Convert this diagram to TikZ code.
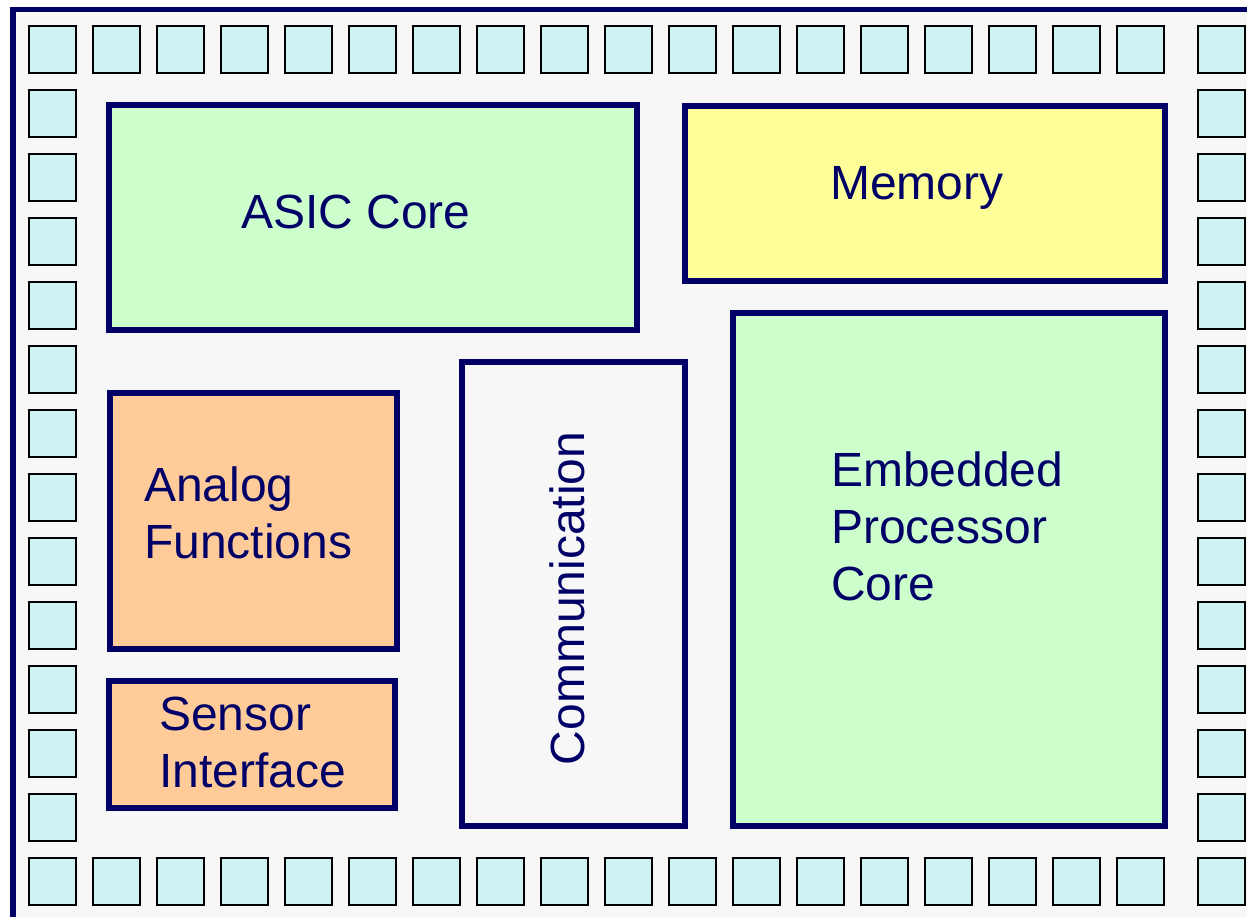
\documentclass[tikz,border=0pt]{standalone}
\usepackage{fontspec}
\setmainfont{Liberation Sans}
\usepackage{tikz}
\usetikzlibrary{fit}
\definecolor{chip-navy}{RGB}{0,0,102}
\definecolor{chip-bg}{RGB}{247,247,247}
\definecolor{pad-cyan}{RGB}{206,243,243}
\definecolor{core-green}{RGB}{204,255,204}
\definecolor{mem-yellow}{RGB}{255,255,153}
\definecolor{analog-orange}{RGB}{255,204,153}
\tikzset{
  chip-pad/.style={draw=black, fill=pad-cyan, line width=2pt, minimum width=47pt,
    minimum height=47pt, inner sep=0pt},
  chip-block/.style={draw=chip-navy, line width=6pt, inner sep=0pt},
  chip-label/.style={text=chip-navy, font=\fontsize{48}{57}\selectfont, inner sep=0pt,
    align=left, anchor=north west}
}

\begin{document}
\begin{tikzpicture}[x=1pt, y=-1pt]
  \useasboundingbox (0,0) rectangle (1247,917);
  \clip (0,0) rectangle (1247,917);
  % Die outline (runs off the right and bottom edges)
  \fill[chip-bg] (13,9.5) rectangle (1280,940);
  \draw[chip-navy, line width=5.5pt] (13,9.5) rectangle (1280,940);

  % --- I/O pad ring ---
  \foreach \k in {0,...,17} {
    \node[chip-pad] (pad-top-\k) at ({52.8+64*\k},49.2) {};
    \node[chip-pad] (pad-bot-\k) at ({52.8+64*\k},881.2) {};
  }
  \foreach \j in {1,...,12}
    \node[chip-pad] (pad-left-\j) at (52.8,{49.2+64*\j}) {};
  \foreach \j in {0,...,13}
    \node[chip-pad] (pad-right-\j) at (1221.5,{49.2+64*\j}) {};

  % --- Functional blocks ---
  \node[chip-block, fill=core-green, fit={(108.7,105) (637,329.5)}] (asic) {};
  \node[chip-block, fill=mem-yellow, fit={(685,106) (1165,281)}] (memory) {};
  \node[chip-block, fill=core-green, fit={(733,313) (1165,826)}] (cpu) {};
  \node[chip-block, fill=chip-bg, fit={(462,362) (685,826)}] (comm) {};
  \node[chip-block, fill=analog-orange, fit={(110,393) (397,649)}] (analog) {};
  \node[chip-block, fill=analog-orange, fit={(108.7,681) (395,807.5)}] (sensor) {};

  % Block labels
  \node[chip-label] (asic-text) at (241,195) {ASIC Core};
  \node[chip-label] (memory-text) at (830,166) {Memory};
  \node[chip-label] (cpu-text) at (831,452) {Embedded\\Processor\\Core};
  \node[chip-label] (analog-text) at (144,467) {Analog\\Functions};
  \node[chip-label] (sensor-text) at (159,697) {Sensor\\Interface};
  \node[chip-label, anchor=center, rotate=90] (comm-text) at (567.5,598.5) {Communication};
\end{tikzpicture}
\end{document}
